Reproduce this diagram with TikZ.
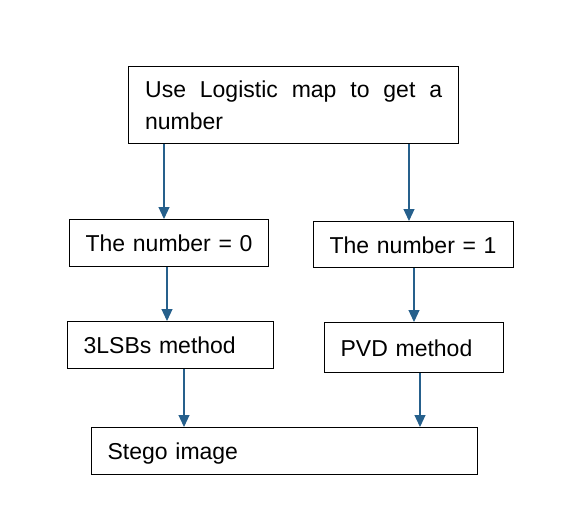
\documentclass[tikz,border=0pt]{standalone}
\usepackage{fontspec}
\setmainfont{Liberation Sans}
\usetikzlibrary{arrows.meta}
\definecolor{flowblue}{RGB}{38,96,140}

\begin{document}
\begin{tikzpicture}[x=1pt, y=-1pt,
	block/.style={draw, line width=1.3pt, anchor=north west, inner xsep=16pt, inner ysep=0pt, align=left, font=\fontsize{23}{31.5}\selectfont},
	oneline/.style={block, text height=18pt, text depth=1pt},
	flow/.style={flowblue, line width=1.2pt, -{Triangle[width=11pt,length=12pt]}}]
	\useasboundingbox (0,0) rectangle (576,520);

	\node[block, text width=297pt, inner xsep=16.5pt, minimum height=77pt] (map) at (128,66) {Use\hfill Logistic\hfill map\hfill to\hfill get\hfill a\\number};
	\node[oneline, text width=167pt, minimum height=47pt] (zero) at (69,219) {The number = 0};
	\node[oneline, text width=168pt, minimum height=46pt] (one) at (313,221) {The number = 1};
	\node[oneline, text width=174pt, minimum height=47pt] (lsb) at (67,321) {3LSBs method};
	\node[oneline, text width=147pt, minimum height=50pt] (pvd) at (324,322) {PVD method};
	\node[oneline, text width=354pt, minimum height=47pt] (stego) at (91,427) {Stego image};

	% logistic map
	\draw[flow] ([xshift=36pt]map.south west) -- ([xshift=95pt]zero.north west);
	\draw[flow] ([xshift=281pt]map.south west) -- ([xshift=96pt]one.north west);
	% number = 0 / 1
	\draw[flow] ([xshift=98pt]zero.south west) -- ([xshift=100pt]lsb.north west);
	\draw[flow] ([xshift=101pt]one.south west) -- ([xshift=90pt]pvd.north west);
	% methods
	\draw[flow] ([xshift=117pt]lsb.south west) -- ([xshift=93pt]stego.north west);
	\draw[flow] ([xshift=96pt]pvd.south west) -- ([xshift=329pt]stego.north west);
\end{tikzpicture}
\end{document}
